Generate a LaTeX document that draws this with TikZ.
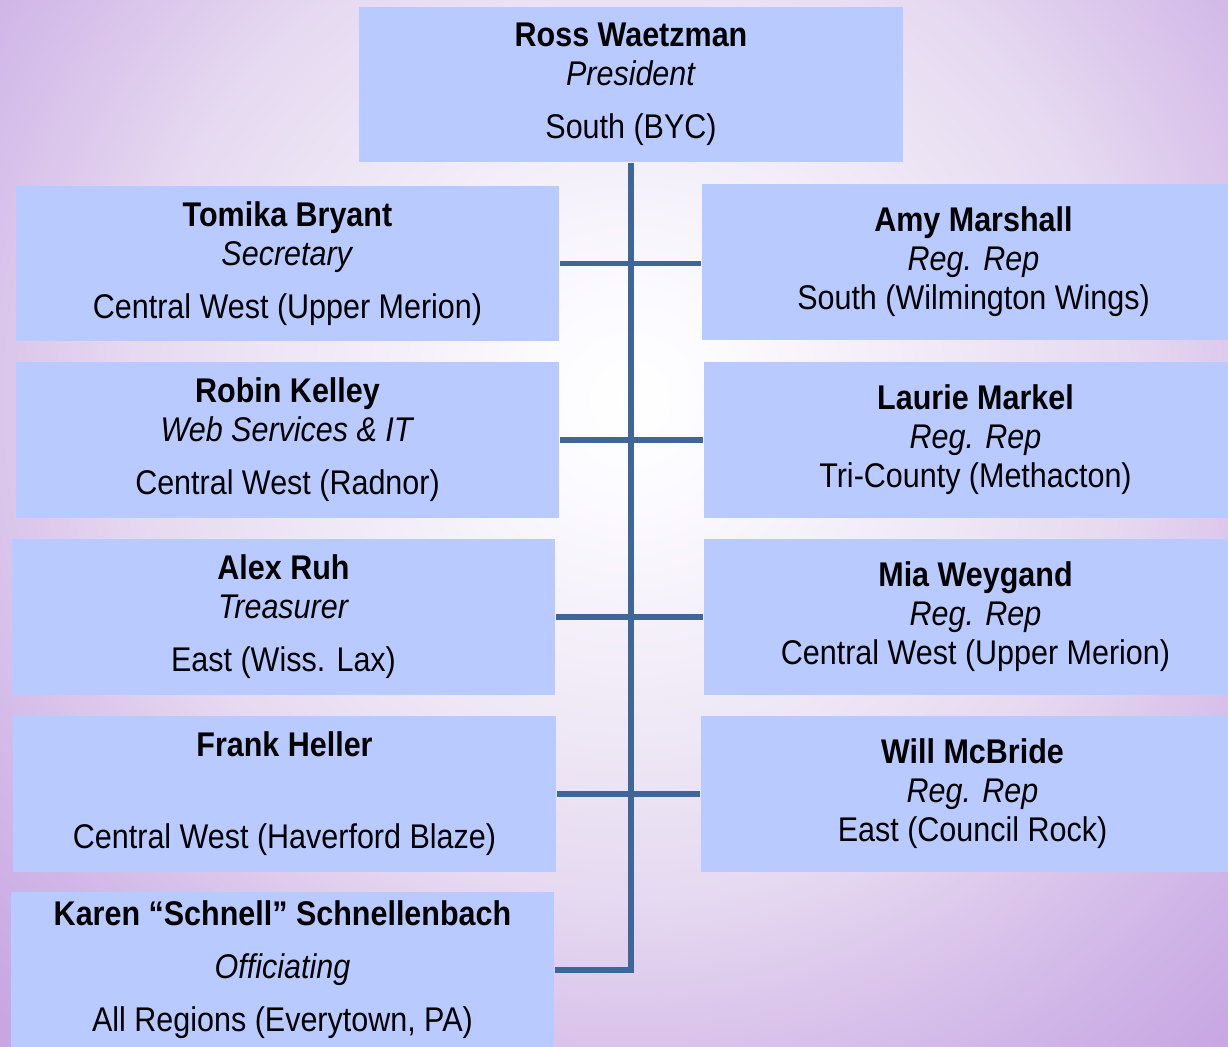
\documentclass[tikz,border=0pt]{standalone}
\usepackage{fontspec}
\setmainfont[FakeStretch=0.89]{Liberation Sans}
\definecolor{boxblue}{HTML}{B8CAFF}
\definecolor{lineblue}{HTML}{3F6698}
\definecolor{bgin}{HTML}{FBFAFF}
\definecolor{bgmid}{HTML}{ECE4F4}
\definecolor{bglow}{HTML}{E6D9F1}
\definecolor{bgout}{HTML}{DCC8EC}
\definecolor{bgrim}{HTML}{D0B6E8}
\definecolor{bgedge}{HTML}{C8A6E2}
\pgfdeclareradialshading{bgglow}{\pgfpoint{0bp}{0bp}}{%
  color(0bp)=(white); color(62bp)=(bgin); color(215bp)=(bgmid);
  color(283bp)=(bglow); color(346bp)=(bgout); color(422bp)=(bgrim);
  color(499bp)=(bgedge); color(522bp)=(bgedge)}
\newcommand{\boxfont}{\fontsize{19.5pt}{22.2pt}\selectfont}
\begin{document}
\begin{tikzpicture}[
        x=0.02cm, y=-0.02cm,
        box/.style={rectangle, fill=boxblue, inner sep=0pt, minimum width=10.88cm, minimum height=3.12cm, align=center, font=\boxfont},
        spine/.style={draw, line width=3.4pt, lineblue},
    ]
	\useasboundingbox (0,0) rectangle (1228,1046);
	\clip (0,0) rectangle (1228,1046);
	\fill[bgedge] (0,0) rectangle (1228,1046);
	\node[inner sep=0pt] (glow) at (630,400) {\pgfuseshading{bgglow}};
	\node[box] (p_) at (631,84.5) {\textbf{Ross Waetzman}\\\textit{President}\\[8pt]South (BYC)};
	\node[box] (l_1) at (287.5,263.5) {\textbf{Tomika Bryant}\\\textit{Secretary}\\[8pt]Central West (Upper Merion)};
	\node[box] (l_2) at (287.5,440) {\textbf{Robin Kelley}\\\textit{Web Services \& IT}\\[8pt]Central West (Radnor)};
	\node[box] (l_3) at (283.5,617) {\textbf{Alex Ruh}\\\textit{Treasurer}\\[8pt]East (Wiss. Lax)};
	\node[box] (l_4) at (284.5,794) {\textbf{Frank Heller}\\\strut\\[8pt]Central West (Haverford Blaze)};
	\node[box] (l_5) at (282.5,970) {\textbf{Karen “Schnell” Schnellenbach}\\[8pt]\textit{Officiating}\\[8pt]All Regions (Everytown, PA)};
	\node[box] (r_1) at (973.5,262) {\textbf{Amy Marshall}\\\textit{Reg. Rep}\\South (Wilmington Wings)};
	\node[box] (r_2) at (975.5,440) {\textbf{Laurie Markel}\\\textit{Reg. Rep}\\Tri-County (Methacton)};
	\node[box] (r_3) at (975.5,617) {\textbf{Mia Weygand}\\\textit{Reg. Rep}\\Central West (Upper Merion)};
	\node[box] (r_4) at (972.5,794) {\textbf{Will McBride}\\\textit{Reg. Rep}\\East (Council Rock)};
	\draw[spine] (p_.south) -- (p_.south |- l_5.east) -- (l_5.east);
	\draw[spine] (l_1.east) -- (l_1.east -| r_1.west);
	\draw[spine] (l_2.east) -- (r_2.west);
	\draw[spine] (l_3.east) -- (r_3.west);
	\draw[spine] (l_4.east) -- (r_4.west);
\end{tikzpicture}
\end{document}
